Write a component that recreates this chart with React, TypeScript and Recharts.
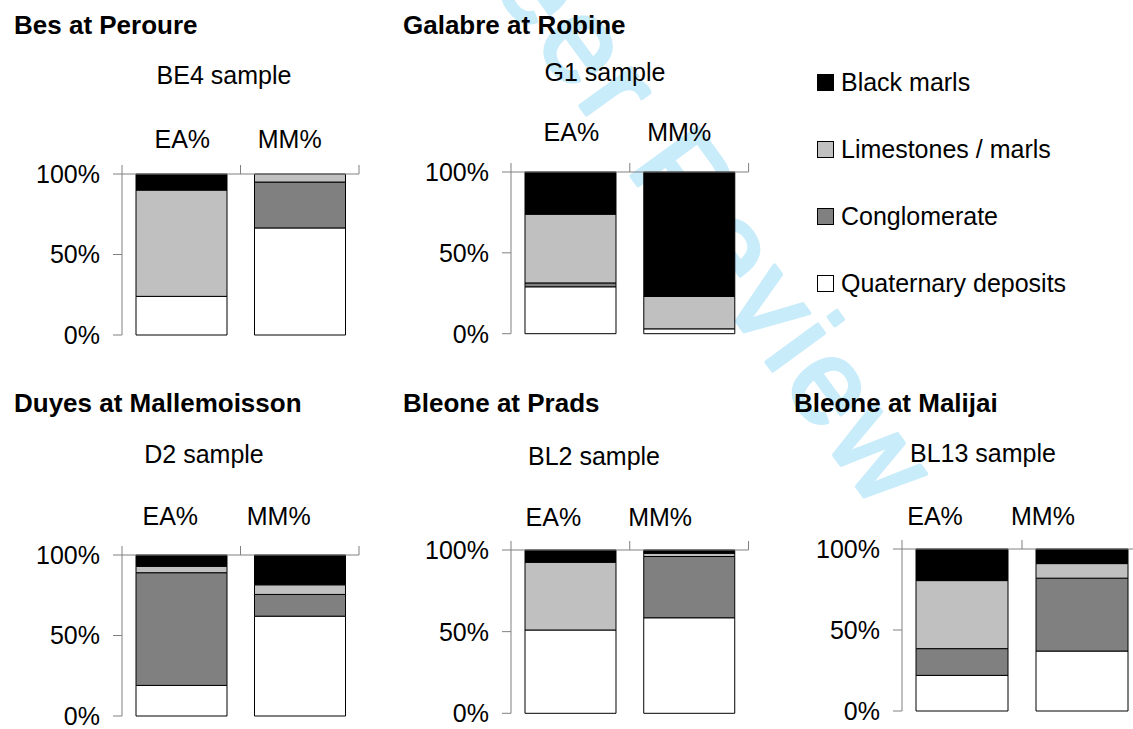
import { BarChart, Bar, XAxis, YAxis, Legend } from 'recharts';

const FONT = '"Liberation Sans", Arial, Helvetica, sans-serif';

// data (percent of each sample)
const categories = ['EA%', 'MM%'];
const samples = ['BE4 sample', 'G1 sample', 'D2 sample', 'BL2 sample', 'BL13 sample'];
const stations = ['Bes at Peroure', 'Galabre at Robine', 'Duyes at Mallemoisson', 'Bleone at Prads', 'Bleone at Malijai'];

const quaternaryEA = [24, 29, 19, 51, 22];
const quaternaryMM = [66.5, 3, 62, 58.5, 37];
const conglomerateEA = [0, 2.4, 70, 0, 16.5];
const conglomerateMM = [28.5, 0, 13.5, 37.5, 45];
const limestonesEA = [66, 42.5, 4, 41.5, 42];
const limestonesMM = [5, 20, 6, 2, 9];
const blackMarlsEA = [10, 26.1, 7, 7.5, 19.5];
const blackMarlsMM = [0, 77, 18.5, 2, 9];

const seriesKeys = ['quaternary', 'conglomerate', 'limestones', 'blackMarls'];
const seriesNames = ['Quaternary deposits', 'Conglomerate', 'Limestones / marls', 'Black marls'];
const seriesColors = ['#ffffff', '#808080', '#c0c0c0', '#000000'];
const yTicks = [0, 50, 100];

// layout of each small chart (pixels on the page)
const panels = [
  { titleX: 14, titleY: 25, sampleX: 224, sampleY: 75, plotX: 122, plotY: 174, plotW: 237, plotH: 161, labelDx: [1, -10], labelDy: -35 },
  { titleX: 403, titleY: 25, sampleX: 605, sampleY: 72, plotX: 510.7, plotY: 172.3, plotW: 237.6, plotH: 161.7, labelDx: [1, -10], labelDy: -40 },
  { titleX: 14, titleY: 403, sampleX: 204, sampleY: 454, plotX: 122.3, plotY: 555, plotW: 237, plotH: 161, labelDx: [-11, -21], labelDy: -39 },
  { titleX: 403, titleY: 403, sampleX: 594, sampleY: 456, plotX: 510.7, plotY: 550, plotW: 237.5, plotH: 163.3, labelDx: [-17, -29], labelDy: -33 },
  { titleX: 794, titleY: 403, sampleX: 983, sampleY: 453, plotX: 901.7, plotY: 549, plotW: 240, plotH: 162, labelDx: [-27, -39], labelDy: -33 },
];

const Y_AXIS_W = 100;
const X_AXIS_H = 64;
const AXIS = '#808080';

function buildRows(i: number) {
  return [
    { cat: categories[0], quaternary: quaternaryEA[i], conglomerate: conglomerateEA[i], limestones: limestonesEA[i], blackMarls: blackMarlsEA[i] },
    { cat: categories[1], quaternary: quaternaryMM[i], conglomerate: conglomerateMM[i], limestones: limestonesMM[i], blackMarls: blackMarlsMM[i] },
  ];
}

function CategoryTick(props: any) {
  const { x, y, payload, index, band, labelDx, labelDy } = props;
  return (
    <g>
      {index === 0 && <line x1={x - band / 2} x2={x - band / 2} y1={y} y2={y - 9} stroke={AXIS} />}
      <line x1={x + band / 2} x2={x + band / 2} y1={y} y2={y - 9} stroke={AXIS} />
      <text x={x + labelDx[index]} y={y + labelDy + 9} textAnchor="middle" fontSize={25} fill="#000">
        {payload.value}
      </text>
    </g>
  );
}

function LegendBox() {
  const order = [3, 2, 1, 0];
  return (
    <div style={{ fontFamily: FONT, fontSize: 25, color: '#000' }}>
      {order.map((k) => (
        <div key={k} style={{ height: 67, display: 'flex', alignItems: 'center', whiteSpace: 'nowrap' }}>
          <span style={{ width: 15, height: 15, background: seriesColors[k], border: '1px solid #000', display: 'inline-block', marginRight: 7 }} />
          <span>{seriesNames[k]}</span>
        </div>
      ))}
    </div>
  );
}

function Panel({ i }: { i: number }) {
  const p = panels[i];
  const left = p.plotX - Y_AXIS_W;
  const top = p.plotY - X_AXIS_H;
  const width = Y_AXIS_W + p.plotW + 10;
  const height = X_AXIS_H + p.plotH + 20;
  const band = p.plotW / categories.length;
  return (
    <div style={{ position: 'absolute', left, top }}>
      <BarChart width={width} height={height} data={buildRows(i)} margin={{ top: 0, right: 10, bottom: 20, left: 0 }}>
        <XAxis
          dataKey="cat"
          orientation="top"
          height={X_AXIS_H}
          axisLine={{ stroke: AXIS }}
          tickLine={false}
          tickSize={0}
          tickMargin={0}
          interval={0}
          tick={(tp: any) => <CategoryTick {...tp} band={band} labelDx={p.labelDx} labelDy={p.labelDy} />}
        />
        <YAxis
          type="number"
          domain={[0, 100]}
          ticks={yTicks}
          interval={0}
          width={Y_AXIS_W}
          tickFormatter={(v: number) => `${v}%`}
          tickSize={9}
          tickMargin={13}
          axisLine={{ stroke: AXIS }}
          tickLine={{ stroke: AXIS }}
          tick={{ fill: '#000', fontSize: 25 }}
        />
        {i === 1 && (
          <Legend
            layout="vertical"
            align="center"
            verticalAlign="middle"
            wrapperStyle={{ left: 817 - left, top: 49 - top, width: 320 }}
            content={() => <LegendBox />}
          />
        )}
        {seriesKeys.map((k, s) => (
          <Bar
            key={k}
            dataKey={k}
            name={seriesNames[s]}
            stackId="a"
            fill={seriesColors[s]}
            stroke="#000"
            strokeWidth={1}
            barSize={Math.round(p.plotW * 0.384)}
            isAnimationActive={false}
          />
        ))}
      </BarChart>
    </div>
  );
}

export default function App() {
  return (
    <div style={{ position: 'absolute', left: 0, top: 0, width: 1133, height: 729, overflow: 'hidden', background: '#fff', fontFamily: FONT }}>
      <svg width={1133} height={729} style={{ position: 'absolute', left: 0, top: 0 }}>
        <text
          x={300}
          y={-280}
          transform="rotate(54 300 -280)"
          fontSize={120}
          letterSpacing={6}
          fill="#c9ecfb"
          stroke="#c9ecfb"
          strokeWidth={4}
          strokeLinejoin="round"
        >
          For Peer Review
        </text>
      </svg>
      {panels.map((_, i) => (
        <Panel key={i} i={i} />
      ))}
      <svg width={1133} height={729} style={{ position: 'absolute', left: 0, top: 0, pointerEvents: 'none' }}>
        {panels.map((p, i) => (
          <g key={i}>
            <text x={p.titleX} y={p.titleY + 9.3} fontSize={26} fontWeight="bold" fill="#000">
              {stations[i]}
            </text>
            <text x={p.sampleX} y={p.sampleY + 9} fontSize={25} textAnchor="middle" fill="#000">
              {samples[i]}
            </text>
          </g>
        ))}
      </svg>
    </div>
  );
}
